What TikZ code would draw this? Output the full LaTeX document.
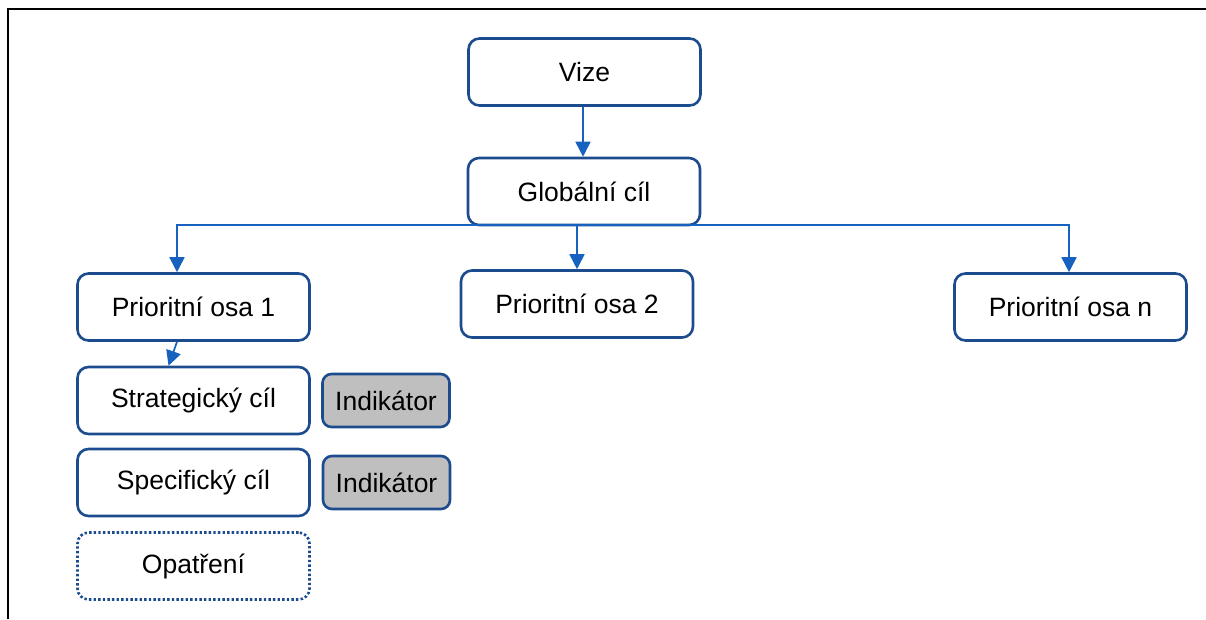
\documentclass[tikz,border=0pt]{standalone}
\usepackage{fontspec}
\setmainfont{Liberation Sans}
\usetikzlibrary{arrows.meta}
\definecolor{boxblue}{RGB}{28,76,142}
\definecolor{linkblue}{RGB}{22,98,190}
\definecolor{indgray}{RGB}{191,191,191}
\begin{document}
\begin{tikzpicture}[x=1pt,y=-1pt,
  box/.style={draw=boxblue,line width=2.6pt,rounded corners=11pt,fill=white,
    minimum width=232pt,minimum height=67pt,inner sep=0pt,
    font=\fontsize{26.5}{30}\selectfont},
  indbox/.style={draw=boxblue,line width=2.6pt,rounded corners=9pt,fill=indgray,
    minimum width=127pt,minimum height=53pt,inner sep=0pt,
    font=\fontsize{26.5}{30}\selectfont},
  dotbox/.style={box,dash pattern=on 2.4pt off 2.2pt},
  link/.style={draw=linkblue,line width=1.7pt,-{Triangle[width=15pt,length=15pt]}}]
\useasboundingbox (0,0) rectangle (1206,619);
% frame
\draw[line width=2pt] (8,619) -- (8,9) -- (1206,9);
% nodes
\node[box] (vize) at (584.5,72) {Vize};
\node[box] (glob) at (584,191.5) {Globální cíl};
\node[box] (p1) at (193.5,307) {Prioritní osa 1};
\node[box] (p2) at (577,304) {Prioritní osa 2};
\node[box] (pn) at (1070.5,307) {Prioritní osa n};
\node[box] (strat) at (193.5,400.5) {Strategický cíl};
\node[indbox] (ind1) at (386,400.5) {Indikátor};
\node[box] (spec) at (193.5,482.5) {Specifický cíl};
\node[indbox] (ind2) at (386.5,482.5) {Indikátor};
\node[dotbox] (opat) at (193.5,566) {Opatření};
% connectors
\draw[link] ([xshift=-1.5pt]vize.south) -- ([xshift=-1.5pt]vize.south |- glob.north);
\coordinate (hub) at ([yshift=1pt]glob.south);
\draw[link] (hub) -| ([xshift=-16.5pt]p1.north);
\draw[link] (hub) -| (p2.north);
\draw[link] (hub) -| ([xshift=-1.5pt]pn.north);
\draw[link] ([xshift=-16.5pt]p1.south) -- ([xshift=-25pt]strat.north);
\end{tikzpicture}
\end{document}
